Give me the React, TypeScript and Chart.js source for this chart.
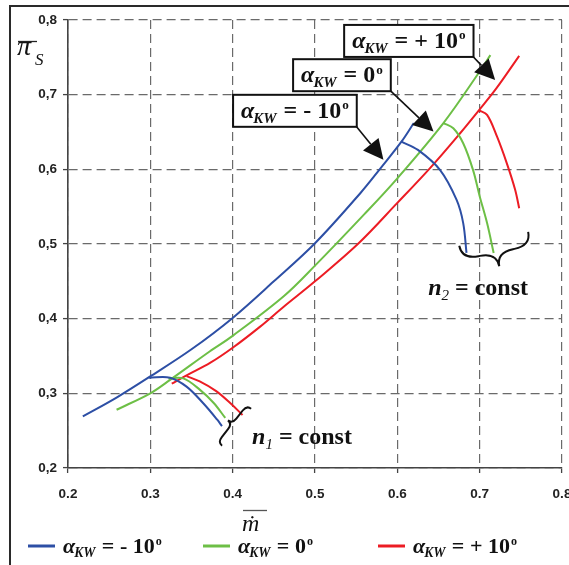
import React, { useEffect, useRef } from 'react';
import { Chart, registerables } from 'chart.js';

Chart.register(...registerables);

// ---- axis ticks ----
const xTickValues = [0.2, 0.3, 0.4, 0.5, 0.6, 0.7, 0.8];
const xTickLabels = ['0,2', '0,3', '0,4', '0,5', '0,6', '0,7', '0,8'];
const yTickValues = [0.2, 0.3, 0.4, 0.5, 0.6, 0.7, 0.8];
const yTickLabels = ['0,2', '0,3', '0,4', '0,5', '0,6', '0,7', '0,8'];

// ---- series (alpha_KW) ----
const alphaLabels = ['- 10', '0', '+ 10'];
const seriesColors = ['#2d4fa5', '#6dbf46', '#ec1c24'];

// alpha = -10
const minus10Main: [number, number][] = [
  [0.218, 0.269], [0.260, 0.295], [0.299, 0.322], [0.350, 0.359], [0.400, 0.401],
  [0.450, 0.450], [0.500, 0.501], [0.555, 0.568], [0.580, 0.602], [0.605, 0.637],
  [0.620, 0.662],
];
const minus10N2: [number, number][] = [
  [0.605, 0.637], [0.625, 0.626], [0.652, 0.599], [0.672, 0.559], [0.680, 0.528], [0.684, 0.488],
];
const minus10N1: [number, number][] = [
  [0.298, 0.321], [0.324, 0.321], [0.344, 0.309], [0.364, 0.287], [0.381, 0.265], [0.387, 0.256],
];

// alpha = 0
const zeroMain: [number, number][] = [
  [0.259, 0.278], [0.300, 0.300], [0.324, 0.318], [0.372, 0.356], [0.400, 0.377],
  [0.462, 0.430], [0.500, 0.471], [0.560, 0.540], [0.600, 0.588], [0.656, 0.662],
  [0.700, 0.731], [0.713, 0.753],
];
const zeroN2: [number, number][] = [
  [0.656, 0.662], [0.668, 0.655], [0.680, 0.635], [0.692, 0.599], [0.700, 0.564], [0.709, 0.528], [0.717, 0.488],
];
const zeroN1: [number, number][] = [
  [0.322, 0.320], [0.340, 0.320], [0.360, 0.305], [0.377, 0.287], [0.391, 0.267],
];

// alpha = +10
const plus10Main: [number, number][] = [
  [0.326, 0.313], [0.344, 0.324], [0.373, 0.341], [0.400, 0.361], [0.433, 0.389],
  [0.462, 0.416], [0.500, 0.450], [0.553, 0.501], [0.600, 0.555], [0.640, 0.602],
  [0.676, 0.648], [0.699, 0.679], [0.720, 0.708], [0.748, 0.752],
];
const plus10N2: [number, number][] = [
  [0.699, 0.679], [0.709, 0.673], [0.721, 0.644], [0.733, 0.608], [0.743, 0.573], [0.748, 0.548],
];
const plus10N1: [number, number][] = [
  [0.344, 0.323], [0.360, 0.316], [0.380, 0.303], [0.397, 0.287], [0.412, 0.271],
];

const seriesCurves = [
  [minus10Main, minus10N2, minus10N1],
  [zeroMain, zeroN2, zeroN1],
  [plus10Main, plus10N2, plus10N1],
];

// ---- annotations (data coordinates) ----
const labelBoxes = [
  { series: 2, x: 0.5354, y: 0.7934, tipX: 0.7188, tipY: 0.7198 },
  { series: 1, x: 0.4734, y: 0.7475, tipX: 0.6439, tipY: 0.6506 },
  { series: 0, x: 0.4005, y: 0.6998, tipX: 0.5831, tipY: 0.6128 },
];
const constLabels = [
  { sub: '1', x: 0.4236, y: 0.2325, braceFrom: [0.4224, 0.2794], braceTo: [0.3871, 0.2299], depth: 11 },
  { sub: '2', x: 0.6374, y: 0.4322, braceFrom: [0.6752, 0.4976], braceTo: [0.7589, 0.5163], depth: 28 },
];

const SERIF = '"Liberation Serif", "Times New Roman", serif';
const SANS = '"Liberation Sans", Arial, sans-serif';

function drawAlphaText(ctx: CanvasRenderingContext2D, x: number, y: number, F: number, val: string, draw = true): number {
  let cx = x;
  ctx.textAlign = 'left';
  ctx.textBaseline = 'alphabetic';
  ctx.font = `italic bold ${F}px ${SERIF}`;
  if (draw) ctx.fillText('α', cx, y);
  cx += ctx.measureText('α').width;
  ctx.font = `italic bold ${F * 0.62}px ${SERIF}`;
  if (draw) ctx.fillText('KW', cx - 1, y + F * 0.2);
  cx += ctx.measureText('KW').width;
  ctx.font = `bold ${F}px ${SERIF}`;
  const t = ' = ' + val;
  if (draw) ctx.fillText(t, cx, y);
  cx += ctx.measureText(t).width;
  ctx.font = `bold ${F * 0.55}px ${SERIF}`;
  if (draw) ctx.fillText('o', cx + 1, y - F * 0.36);
  cx += ctx.measureText('o').width + 1;
  return cx - x;
}

function drawBrace(ctx: CanvasRenderingContext2D, x1: number, y1: number, x2: number, y2: number, depth: number) {
  const dx = x2 - x1, dy = y2 - y1;
  const L = Math.hypot(dx, dy);
  const ux = dx / L, uy = dy / L;
  const nx = -uy * Math.sign(depth), ny = ux * Math.sign(depth);
  const d = Math.abs(depth);
  const h = d / 2;
  const r = Math.min(L / 4, d * 0.6);
  const P = (a: number, b: number) => [x1 + ux * a + nx * b, y1 + uy * a + ny * b];
  ctx.beginPath();
  let p = P(0, 0); ctx.moveTo(p[0], p[1]);
  let c = P(0, h); p = P(r, h); ctx.quadraticCurveTo(c[0], c[1], p[0], p[1]);
  p = P(L / 2 - r, h); ctx.lineTo(p[0], p[1]);
  c = P(L / 2, h); p = P(L / 2, d); ctx.quadraticCurveTo(c[0], c[1], p[0], p[1]);
  c = P(L / 2, h); p = P(L / 2 + r, h); ctx.quadraticCurveTo(c[0], c[1], p[0], p[1]);
  p = P(L - r, h); ctx.lineTo(p[0], p[1]);
  c = P(L, h); p = P(L, 0); ctx.quadraticCurveTo(c[0], c[1], p[0], p[1]);
  ctx.stroke();
}

const overlayPlugin = {
  id: 'overlay',
  afterDraw(chart: any) {
    const ctx: CanvasRenderingContext2D = chart.ctx;
    const xs = chart.scales.x, ys = chart.scales.y;
    const px = (v: number) => xs.getPixelForValue(v);
    const py = (v: number) => ys.getPixelForValue(v);
    ctx.save();

    // outer frame
    ctx.strokeStyle = '#2a2a2a';
    ctx.lineWidth = 2;
    ctx.beginPath();
    ctx.moveTo(10, chart.height);
    ctx.lineTo(10, 6);
    ctx.lineTo(chart.width, 6);
    ctx.stroke();

    // y title: pi bar, subscript S
    ctx.fillStyle = '#111';
    ctx.font = `italic 28px ${SERIF}`;
    ctx.textAlign = 'left';
    ctx.textBaseline = 'alphabetic';
    ctx.fillText('π', 17, 55);
    ctx.font = `italic 17px ${SERIF}`;
    ctx.fillText('S', 35, 65);
    ctx.strokeStyle = '#222';
    ctx.lineWidth = 1.3;
    ctx.beginPath(); ctx.moveTo(18, 41.5); ctx.lineTo(37, 41.5); ctx.stroke();

    // x title: m-dot with bar
    ctx.font = `italic 24px ${SERIF}`;
    ctx.fillText('ṁ', 242, 531);
    ctx.strokeStyle = '#555';
    ctx.beginPath(); ctx.moveTo(243, 510.5); ctx.lineTo(267, 510.5); ctx.stroke();

    // legend
    const legendX = [28, 203, 378];
    alphaLabels.forEach((lab, i) => {
      ctx.strokeStyle = seriesColors[i];
      ctx.lineWidth = 3;
      ctx.beginPath(); ctx.moveTo(legendX[i], 546); ctx.lineTo(legendX[i] + 27, 546); ctx.stroke();
      ctx.fillStyle = '#111';
      drawAlphaText(ctx, legendX[i] + 35, 553, 22, lab);
    });

    // labelled boxes with arrows
    const BF = 24;
    labelBoxes.forEach((b) => {
      const bx = px(b.x), by = py(b.y);
      const tw = drawAlphaText(ctx, 0, 0, BF, alphaLabels[b.series], false);
      const bw = tw + 16, bh = 32;
      const sx = bx + bw - 1, sy = by + bh - 1;
      const tx = px(b.tipX), ty = py(b.tipY);
      const ang = Math.atan2(ty - sy, tx - sx);
      const hl = 20, hw = 10;
      const baseX = tx - Math.cos(ang) * hl, baseY = ty - Math.sin(ang) * hl;
      ctx.strokeStyle = '#111';
      ctx.lineWidth = 1.6;
      ctx.beginPath(); ctx.moveTo(sx, sy); ctx.lineTo(baseX, baseY); ctx.stroke();
      ctx.fillStyle = '#111';
      ctx.beginPath();
      ctx.moveTo(tx, ty);
      ctx.lineTo(baseX - Math.sin(ang) * hw, baseY + Math.cos(ang) * hw);
      ctx.lineTo(baseX + Math.sin(ang) * hw, baseY - Math.cos(ang) * hw);
      ctx.closePath();
      ctx.fill();
      ctx.fillStyle = '#fff';
      ctx.fillRect(bx, by, bw, bh);
      ctx.strokeStyle = '#111';
      ctx.lineWidth = 2;
      ctx.strokeRect(bx, by, bw, bh);
      ctx.fillStyle = '#111';
      drawAlphaText(ctx, bx + 8, by + 23, BF, alphaLabels[b.series]);
    });

    // n = const labels with braces
    constLabels.forEach((c) => {
      ctx.strokeStyle = '#111';
      ctx.lineWidth = 2;
      drawBrace(ctx, px(c.braceFrom[0]), py(c.braceFrom[1]), px(c.braceTo[0]), py(c.braceTo[1]), c.depth);
      const x0 = px(c.x), y0 = py(c.y);
      ctx.fillStyle = '#111';
      ctx.textAlign = 'left';
      ctx.textBaseline = 'alphabetic';
      let cx = x0;
      ctx.font = `italic bold 24px ${SERIF}`;
      ctx.fillText('n', cx, y0);
      cx += ctx.measureText('n').width;
      ctx.font = `italic 15px ${SERIF}`;
      ctx.fillText(c.sub, cx, y0 + 5);
      cx += ctx.measureText(c.sub).width;
      ctx.font = `bold 24px ${SERIF}`;
      ctx.fillText(' = const', cx, y0);
    });

    ctx.restore();
  },
};

export default function App() {
  const ref = useRef<HTMLCanvasElement | null>(null);
  useEffect(() => {
    if (!ref.current) return;
    const datasets: any[] = [];
    seriesCurves.forEach((curves, si) => {
      curves.forEach((pts) => {
        datasets.push({
          data: pts.map(([x, y]) => ({ x, y })),
          showLine: true,
          borderColor: seriesColors[si],
          backgroundColor: seriesColors[si],
          borderWidth: 2,
          pointRadius: 0,
          tension: 0.35,
          fill: false,
        });
      });
    });
    const gridCommon = {
      color: '#6a6a6a',
      lineWidth: 1.2,
      drawTicks: true,
      tickLength: 5,
      tickColor: '#444',
      tickWidth: 1.3,
      tickBorderDash: [],
    };
    const borderCommon = { display: true, color: '#444', width: 1.6, dash: [9, 5] };
    const chart = new Chart(ref.current, {
      type: 'scatter',
      data: { datasets },
      plugins: [overlayPlugin],
      options: {
        animation: false,
        responsive: false,
        layout: { padding: { left: 0, top: 20, right: 7, bottom: 67 } },
        plugins: { legend: { display: false }, tooltip: { enabled: false } },
        scales: {
          x: {
            type: 'linear',
            min: 0.2,
            max: 0.8,
            afterBuildTicks: (s: any) => { s.ticks = xTickValues.map((v) => ({ value: v })); },
            afterFit: (s: any) => { s.height = 30; s.paddingLeft = 0; s.paddingRight = 0; },
            ticks: {
              autoSkip: false,
              maxRotation: 0,
              padding: 13,
              color: '#222',
              font: { family: SANS, weight: 'bold', size: 13.5 },
              callback: (_v: any, i: number) => xTickLabels[i],
            },
            grid: gridCommon,
            border: borderCommon,
          },
          y: {
            type: 'linear',
            min: 0.2,
            max: 0.8,
            afterBuildTicks: (s: any) => { s.ticks = yTickValues.map((v) => ({ value: v })); },
            afterFit: (s: any) => { s.width = 68; s.paddingTop = 0; s.paddingBottom = 0; },
            ticks: {
              autoSkip: false,
              padding: 6,
              color: '#222',
              font: { family: SANS, weight: 'bold', size: 13.5 },
              callback: (_v: any, i: number) => yTickLabels[i],
            },
            grid: gridCommon,
            border: borderCommon,
          },
        },
      } as any,
    });
    return () => chart.destroy();
  }, []);
  return (
    <div style={{ position: 'fixed', left: 0, top: 0, width: 569, height: 565, background: '#fff' }}>
      <canvas ref={ref} width={569} height={565} style={{ display: 'block' }} />
    </div>
  );
}
